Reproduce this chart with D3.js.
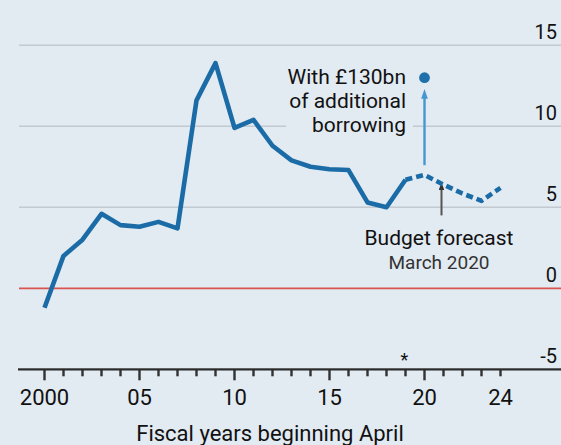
<!DOCTYPE html>
<html>
<head>
<meta charset="utf-8">
<script src="https://cdn.jsdelivr.net/npm/d3@7"></script>
<style>
  html, body { margin: 0; padding: 0; background: #e2eaf2; }
  svg { display: block; }
  text { font-family: Roboto, "Open Sans", sans-serif; fill: #111; }
</style>
</head>
<body>
<svg id="chart" width="561" height="445"></svg>
<script>
// ---- data ----
const years = [2000,2001,2002,2003,2004,2005,2006,2007,2008,2009,2010,2011,2012,
               2013,2014,2015,2016,2017,2018,2019,2020,2021,2022,2023,2024];
const values = [-1.2,2.0,3.0,4.6,3.9,3.8,4.1,3.7,11.6,13.9,9.9,10.4,8.8,
                7.9,7.5,7.35,7.3,5.3,5.0,6.7,7.0,6.4,5.85,5.4,6.2];
const forecastStart = 2019;           // dashed from here (Budget forecast, March 2020)
const extraYear = 2020;               // with £130bn of additional borrowing
const extraValue = 13.0;
const yTicks = [-5, 0, 5, 10, 15];
const yTickLabels = ["-5", "0", "5", "10", "15"];
const xMinor = [2000,2001,2002,2003,2004,2005,2006,2007,2008,2009,2010,2011,2012,
                2013,2014,2015,2016,2017,2018,2019,2020,2021,2022,2023,2024];
const xMajor = [2000, 2005, 2010, 2015, 2020];
const xLabelYears = [2000, 2005, 2010, 2015, 2020, 2024];
const xLabels = ["2000", "05", "10", "15", "20", "24"];
const xTitle = "Fiscal years beginning April";
const noteLines = ["With £130bn", "of additional", "borrowing"];
const budgetLines = ["Budget forecast", "March 2020"];

// ---- layout ----
const svg = d3.select("#chart");
const W = 561, H = 445;
const BG = "#e2eaf2";
const x = d3.scaleLinear().domain([2000, 2024]).range([44.5, 500.5]);
const y = d3.scaleLinear().domain([-5, 15]).range([369.3, 45.3]);
const gridLeft = 19, gridRight = W;

svg.append("rect").attr("width", W).attr("height", H).attr("fill", BG);

// gridlines
svg.append("g").selectAll("line")
  .data(yTicks.filter(d => d !== -5 && d !== 0))
  .join("line")
  .attr("x1", gridLeft).attr("x2", gridRight)
  .attr("y1", d => y(d)).attr("y2", d => y(d))
  .attr("stroke", "#c2c9d0").attr("stroke-width", 1.6);

// zero line
svg.append("line")
  .attr("x1", gridLeft).attr("x2", gridRight)
  .attr("y1", y(0)).attr("y2", y(0))
  .attr("stroke", "#d9544e").attr("stroke-width", 1.8);

// y labels (right)
svg.append("g").selectAll("text")
  .data(yTicks)
  .join("text")
  .attr("x", 557).attr("y", d => y(d) - 6.5)
  .attr("text-anchor", "end")
  .attr("font-size", 20)
  .text((d, i) => yTickLabels[i]);

// x axis: baseline, minor and major ticks
const axisY = y(-5);
svg.append("g").selectAll("rect")
  .data(xMinor)
  .join("rect")
  .attr("x", d => x(d) - 1.2).attr("width", 2.4)
  .attr("y", axisY).attr("height", d => xMajor.includes(d) ? 11 : 7)
  .attr("fill", "#333");
svg.append("rect")
  .attr("x", 18).attr("width", W - 18)
  .attr("y", axisY - 1).attr("height", 2.2)
  .attr("fill", "#2a2a2a");

svg.append("g").selectAll("text")
  .data(xLabelYears)
  .join("text")
  .attr("x", d => x(d)).attr("y", 405)
  .attr("text-anchor", "middle")
  .attr("font-size", 22)
  .text((d, i) => xLabels[i]);

svg.append("text")
  .attr("x", 270).attr("y", 441)
  .attr("text-anchor", "middle")
  .attr("font-size", 22)
  .text(xTitle);

// asterisk
svg.append("text")
  .attr("x", x(forecastStart) - 1).attr("y", 366)
  .attr("text-anchor", "middle")
  .attr("font-size", 18)
  .text("*");

// mask behind annotation text (gridline gap)
svg.append("rect")
  .attr("x", 286).attr("y", 116).attr("width", 127).attr("height", 20)
  .attr("fill", BG);

// annotation text
svg.append("g").selectAll("text")
  .data(noteLines)
  .join("text")
  .attr("x", 406).attr("y", (d, i) => 84 + i * 24)
  .attr("text-anchor", "end")
  .attr("font-size", 21)
  .text(d => d);

// arrow markers
const defs = svg.append("defs");
defs.append("marker").attr("id", "ab")
  .attr("viewBox", "0 0 10 10").attr("refX", 5).attr("refY", 5)
  .attr("markerWidth", 4).attr("markerHeight", 4).attr("orient", "auto")
  .append("path").attr("d", "M0,1.5 L10,5 L0,8.5 Z").attr("fill", "#4896d0");
defs.append("marker").attr("id", "ag")
  .attr("viewBox", "0 0 10 10").attr("refX", 5).attr("refY", 5)
  .attr("markerWidth", 4).attr("markerHeight", 4).attr("orient", "auto")
  .append("path").attr("d", "M0,1.5 L10,5 L0,8.5 Z").attr("fill", "#333");

// blue arrow
svg.append("line")
  .attr("x1", x(extraYear)).attr("x2", x(extraYear))
  .attr("y1", y(7.6)).attr("y2", y(12.0))
  .attr("stroke", "#4896d0").attr("stroke-width", 2.4)
  .attr("marker-end", "url(#ab)");

// grey arrow to Budget forecast
svg.append("line")
  .attr("x1", x(2021) - 2).attr("x2", x(2021) - 2)
  .attr("y1", y(4.5)).attr("y2", y(6.3))
  .attr("stroke", "#555").attr("stroke-width", 2)
  .attr("marker-end", "url(#ag)");

// budget text
svg.append("text")
  .attr("x", 439).attr("y", 245)
  .attr("text-anchor", "middle").attr("font-size", 21)
  .text(budgetLines[0]);
svg.append("text")
  .attr("x", 439).attr("y", 269)
  .attr("text-anchor", "middle").attr("font-size", 19)
  .style("fill", "#333")
  .text(budgetLines[1]);

// main line
const data = years.map((yr, i) => ({ yr, v: values[i] }));
const line = d3.line().x(d => x(d.yr)).y(d => y(d.v));
svg.append("path")
  .datum(data.filter(d => d.yr <= forecastStart))
  .attr("d", line)
  .attr("fill", "none").attr("stroke", "#1b6ca6")
  .attr("stroke-width", 4.6).attr("stroke-linejoin", "round");
svg.append("path")
  .datum(data.filter(d => d.yr >= forecastStart))
  .attr("d", line)
  .attr("fill", "none").attr("stroke", "#1b6ca6")
  .attr("stroke-width", 4.6).attr("stroke-linejoin", "round")
  .attr("stroke-dasharray", "7,4");

// dot
svg.append("circle")
  .attr("cx", x(extraYear)).attr("cy", y(extraValue))
  .attr("r", 5.4).attr("fill", "#1f70ab");
</script>
</body>
</html>
